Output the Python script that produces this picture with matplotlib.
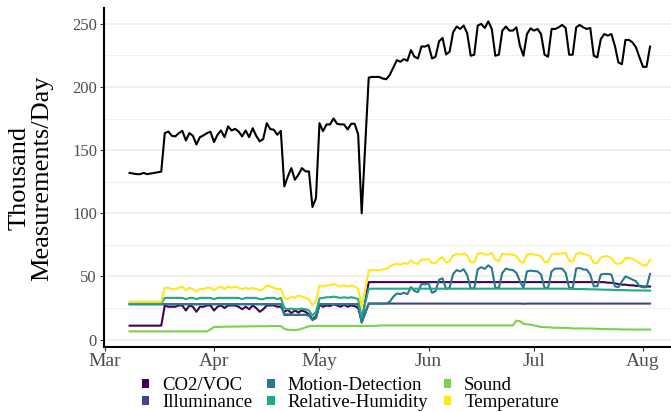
import matplotlib
matplotlib.use("Agg")
import matplotlib.pyplot as plt
import matplotlib.dates as mdates
from matplotlib.patches import Patch
import pandas as pd

plt.rcParams['font.family'] = ['Liberation Serif', 'DejaVu Serif']

# daily values, 2020-03-08 .. 2020-08-03 (thousand measurements/day)
dates = pd.date_range("2020-03-08", "2020-08-03", freq="D")

total = [
    132, 131.5, 131, 131, 132, 131, 131.5, 132, 132.5, 133,
    163.5, 164.8, 161.4, 160.9, 163.5, 165.3, 157.7, 163.5, 161.4, 154.5,
    160.3, 161.7, 163.5, 164.6, 156.4, 162.2, 165.6, 160.3, 168.8, 165.6,
    166.9, 164.8, 160.9, 165.6, 160.3, 167.4, 161.4, 157, 158.8, 171.4,
    166.7, 166.2, 162.2, 165.3, 121.3, 129.2, 135.8, 126.6, 130.5, 135.8,
    133.2, 133.2, 105, 112, 171.4, 165, 170.4, 170.4, 175.1, 170.9,
    170.4, 170.4, 166.4, 170.9, 170.9, 162.4, 100, 154, 207.5, 208,
    208, 208, 206.7, 206.2, 209.7, 215.5, 221.3, 220, 222.1, 220.8,
    229.3, 224, 222.6, 232.2, 232, 233.3, 222.6, 224, 236.2, 238.9,
    225.8, 228, 243.4, 247.9, 246, 248.7, 242.6, 224.8, 225.6, 248.7,
    250, 246.8, 252, 246, 224.8, 225.6, 244.7, 247.9, 244.7, 244.7,
    247.3, 232.7, 224.8, 242, 246.5, 244.7, 246, 242, 225.6, 224,
    246, 246, 247.3, 249.2, 246.8, 225.6, 225.6, 247.3, 249.2, 247.3,
    246, 246.8, 224.8, 223.5, 238, 242, 240.7, 242, 232.7, 219.5,
    218, 237.3, 237.3, 235.4, 231.4, 223.5, 216, 216, 232]

co2 = [
    11, 11, 11, 11, 11, 11, 11, 11, 11, 11,
    27, 26, 26, 26, 27, 27, 23, 27, 26, 22,
    26, 26, 27, 27, 23, 26, 27, 25, 27, 27,
    27, 26, 24, 26, 24, 27, 25, 22, 24, 27,
    27, 27, 26, 26, 22, 23.5, 21, 23, 21.5, 23,
    22, 20, 16, 18.5, 27.5, 26, 27, 26.5, 28, 27,
    26, 27.5, 26, 27, 26.5, 25, 15, 30, 45.5, 45.5,
    45.5, 45.5, 45.5, 45.5, 45.5, 45.5, 45.5, 45.5, 45.5, 45.5,
    45.5, 45.5, 45.5, 45.5, 45.5, 45.5, 45.5, 45.5, 45.5, 45.5,
    45.5, 45.5, 45.5, 45.5, 45.5, 45.5, 45.5, 45.5, 45.5, 45.5,
    45.5, 45.5, 45.5, 45.5, 45.5, 45.5, 45.5, 45.5, 45.5, 45.5,
    45.5, 45.5, 45.5, 45.5, 45.5, 45.5, 45.5, 45.5, 45.5, 45.5,
    45.5, 45.5, 45.5, 45.5, 45.5, 45.5, 45.5, 45.5, 45.5, 45.5,
    45.5, 45.5, 45.5, 45.5, 45.5, 45.5, 45, 45, 44.5, 44,
    43.5, 43.5, 43, 43, 42.5, 42.5, 42, 42, 42]

illuminance = [
    28, 28, 28, 28, 28, 28, 28, 28, 28, 28,
    28, 28, 28, 28, 28, 28, 28, 28, 28, 28,
    28, 28, 28, 28, 28, 28, 28, 28, 28, 28,
    28, 28, 28, 28, 28, 28, 28, 28, 28, 28,
    28, 28, 28, 28, 19.5, 19.5, 19.5, 19.5, 19.5, 19.5,
    19.5, 19, 15.5, 17, 28, 28, 28, 28, 28, 28,
    28, 28, 28, 28, 28, 28, 13.5, 21, 28.5, 28.5,
    28.5, 28.5, 28.5, 28.5, 28.5, 28.5, 28.5, 28.5, 28.5, 28.5,
    28.5, 28.5, 28.5, 28.5, 28.5, 28.5, 28.5, 28.5, 28.5, 28.5,
    28.5, 28.5, 28.5, 28.5, 28.5, 28.5, 28.5, 28.5, 28.5, 28.5,
    28.5, 28.5, 28.5, 28.5, 28.5, 28.5, 28.5, 28.5, 28.5, 28.5,
    28.5, 28.5, 28.3, 28.5, 28.5, 28.5, 28.5, 28.5, 28.5, 28.5,
    28.5, 28.5, 28.5, 28.5, 28.5, 28.5, 28.5, 28.5, 28.5, 28.5,
    28.5, 28.5, 28.5, 28.5, 28.5, 28.5, 28.5, 28.5, 28.5, 28.5,
    28.5, 28.5, 28.5, 28.5, 28.5, 28.5, 28.5, 28.5, 28.5]

motion = [
    28, 28, 28, 28, 28, 28, 28, 28, 28, 28,
    28, 28, 28, 28, 28, 28, 28, 28, 28, 28,
    28, 28, 28, 28, 28, 28, 28, 28, 28, 28,
    28, 28, 28, 28, 28, 28, 28, 28, 28, 28,
    28, 28, 28, 28, 19.8, 20, 19.8, 19.5, 19.8, 19.5,
    19.8, 19.3, 15.8, 17, 28, 28, 28, 28, 28, 28,
    28, 28, 28, 28, 28, 28, 13.5, 21, 28.5, 28.5,
    28.5, 28.5, 28.5, 28.5, 30, 34, 36.5, 36, 37, 36,
    41.5, 38.4, 37.6, 44, 43.7, 44.5, 37, 38.4, 47.4, 48.5,
    40, 41, 52, 55, 54, 55.7, 51, 40.5, 40.5, 55.7,
    57.3, 56, 58.8, 56.5, 40.9, 40.9, 52.8, 56.2, 55.4, 55,
    52.8, 46.2, 40.9, 54, 54.6, 54.2, 54, 51.5, 40.9, 40.9,
    54, 56.2, 56.2, 56.2, 52.8, 40.9, 40.9, 56.2, 56.7, 55.5,
    55.4, 51.5, 42.2, 42.2, 51.5, 52, 52, 51.5, 42.2, 41.4,
    46, 50, 48.8, 47.5, 46.2, 42.2, 41.4, 41.4, 52]

humidity = [
    28.5, 28.5, 28.5, 28.5, 28.5, 28.5, 28.5, 28.5, 28.5, 28.5,
    33, 33, 33, 33, 33, 33, 32, 33, 33, 32,
    33, 33, 33, 33, 32, 33, 33, 33, 33, 33,
    33, 33, 32, 33, 33, 33, 33, 32, 32, 33,
    33, 33, 32, 33, 25, 24, 24.5, 24, 24, 24.5,
    24, 23, 19, 22, 32.5, 33, 33.5, 33.5, 34, 33.5,
    33, 33.5, 33, 33.5, 33, 32, 17.5, 29, 40.3, 40.3,
    40.3, 40.3, 40.3, 40.3, 40.3, 40.3, 40.3, 40.3, 40.3, 40.3,
    40.3, 40.3, 40.3, 40.3, 40.3, 40.3, 40.3, 40.3, 40.3, 40.3,
    40.3, 40.3, 40.3, 40.3, 40.3, 40.3, 40.3, 40.3, 40.3, 40.3,
    40.3, 40.3, 40.3, 40.3, 40.3, 40.3, 40.3, 40.3, 40.3, 40.3,
    40.3, 40.3, 40.3, 40.3, 40.3, 40.3, 40.3, 40.3, 40.3, 40.3,
    40.3, 40.3, 40.3, 40.3, 40.3, 40.2, 40.1, 40, 40, 40,
    39.9, 39.8, 39.8, 39.7, 39.6, 39.5, 39.5, 39.4, 39.3, 39.2,
    39.2, 39.1, 39, 39, 38.9, 38.9, 38.8, 38.8, 38.8]

sound = [
    6.5, 6.5, 6.5, 6.5, 6.5, 6.5, 6.5, 6.5, 6.5, 6.5,
    6.5, 6.5, 6.5, 6.5, 6.5, 6.5, 6.5, 6.5, 6.5, 6.5,
    6.5, 6.5, 6.5, 8, 10, 10, 10, 10.2, 10.2, 10.2,
    10.3, 10.3, 10.4, 10.4, 10.5, 10.5, 10.5, 10.6, 10.6, 10.6,
    10.7, 10.7, 10.7, 10.7, 8.5, 7.8, 7.6, 7.6, 7.8, 8.6,
    9.6, 10.5, 10.8, 10.8, 10.8, 10.8, 10.8, 10.8, 10.8, 10.8,
    10.8, 10.8, 10.8, 10.8, 10.8, 10.8, 10.8, 10.8, 10.8, 10.8,
    10.8, 11.2, 11.2, 11.2, 11.2, 11.2, 11.2, 11.2, 11.2, 11.2,
    11.2, 11.2, 11.2, 11.2, 11.2, 11.2, 11.2, 11.2, 11.2, 11.2,
    11.2, 11.2, 11.2, 11.2, 11.2, 11.2, 11.2, 11.2, 11.2, 11.2,
    11.2, 11.2, 11.2, 11.2, 11.2, 11.2, 11.2, 11.2, 11.2, 11.2,
    15, 14.5, 12.5, 12, 11.8, 11.2, 10.6, 10, 9.8, 9.8,
    9.5, 9.3, 9.3, 9.3, 9.2, 9.2, 8.8, 8.8, 8.8, 8.8,
    8.7, 8.7, 8.6, 8.5, 8.4, 8.3, 8.3, 8.2, 8.2, 8.1,
    8, 8, 8, 7.9, 7.9, 7.9, 7.9, 7.9, 7.9]

temperature = [
    30, 30, 30, 30, 30, 30, 30, 30, 30, 30,
    41, 41, 40, 40, 41, 42, 39, 41, 40, 38,
    40, 40, 41, 41, 39, 41, 42, 40, 42, 41,
    42, 41, 40, 41, 40, 41, 40, 39, 40, 43,
    42, 41, 40, 40, 33, 32, 34, 33, 35, 34,
    33, 32, 27, 31, 43, 42, 43, 43, 44, 43,
    42, 43, 42, 43, 42, 40, 26, 40, 54.8, 55,
    55, 55, 55.5, 55.9, 58, 59.3, 60, 59.3, 60.6, 60,
    62.8, 60.6, 60, 63.3, 63.3, 63.8, 60.6, 60.6, 63.8, 65.4,
    61.2, 62, 66.5, 68, 67.3, 68, 66.5, 61.2, 61.2, 68,
    68.6, 67.3, 67.5, 68.6, 63.3, 62, 67.8, 67.5, 67.5, 67.3,
    66, 62, 60.7, 67.3, 67.8, 67.3, 67, 66, 61.5, 61.5,
    67.3, 68, 68, 68.3, 68.6, 62.5, 61.5, 67.8, 68.6, 67.8,
    67.3, 66, 60.7, 60.7, 65, 66, 66, 64.6, 60.7, 59.9,
    61, 64.6, 64.6, 64, 62.5, 60.7, 58.8, 58.8, 63.3]

labels = ["CO2/VOC", "Illuminance", "Motion-Detection",
          "Relative-Humidity", "Sound", "Temperature"]
colors = ["#440154", "#414487", "#2A788E", "#22A884", "#7AD151", "#FDE725"]
series = [co2, illuminance, motion, humidity, sound, temperature]

fig = plt.figure(figsize=(6.71, 4.12), dpi=100)
ax = fig.add_axes([104 / 671, 1 - 346.5 / 412, 1 - 104 / 671, 339 / 412])

for s, c in zip(series, colors):
    ax.plot(dates, s, color=c, lw=1.5)
ax.plot(dates, total, color="black", lw=1.5)

ax.set_ylim(-5.5, 263)
ax.set_xlim(mdates.date2num(pd.Timestamp("2020-03-01")) - 0.28,
            mdates.date2num(pd.Timestamp("2020-08-01")) + 7.96)
ax.set_yticks([0, 50, 100, 150, 200, 250])
ax.set_yticks([25, 75, 125, 175, 225], minor=True)
ax.xaxis.set_major_locator(mdates.MonthLocator())
ax.xaxis.set_major_formatter(mdates.DateFormatter("%b"))

ax.set_axisbelow(True)
ax.yaxis.grid(True, which="major", color="#EBEBEB", lw=1.1)
ax.yaxis.grid(True, which="minor", color="#EBEBEB", lw=0.6)
for side in ["top", "right"]:
    ax.spines[side].set_visible(False)
for side in ["left", "bottom"]:
    ax.spines[side].set_linewidth(1.5)
    ax.spines[side].set_color("black")

ax.tick_params(which="major", length=3, width=0.8, color="#333333",
               labelcolor="#4D4D4D", pad=2)
ax.tick_params(which="minor", length=0)
ax.tick_params(axis="y", labelsize=12)
ax.tick_params(axis="x", labelsize=14)

fig.text(0.046, 0.568, "Thousand\nMeasurements/Day", rotation=90,
         ha="center", va="center", fontsize=19, linespacing=1.0,
         multialignment="center")

handles = [Patch(facecolor=c, edgecolor="none") for c in colors]
fig.legend(handles, labels, ncol=3, loc="center",
           bbox_to_anchor=(0.522, 0.043), frameon=False, fontsize=13.5,
           handlelength=0.4, handleheight=0.4, handletextpad=0.7,
           columnspacing=0.8, labelspacing=0.0, borderpad=0)

fig.savefig("out.png", dpi=100)
